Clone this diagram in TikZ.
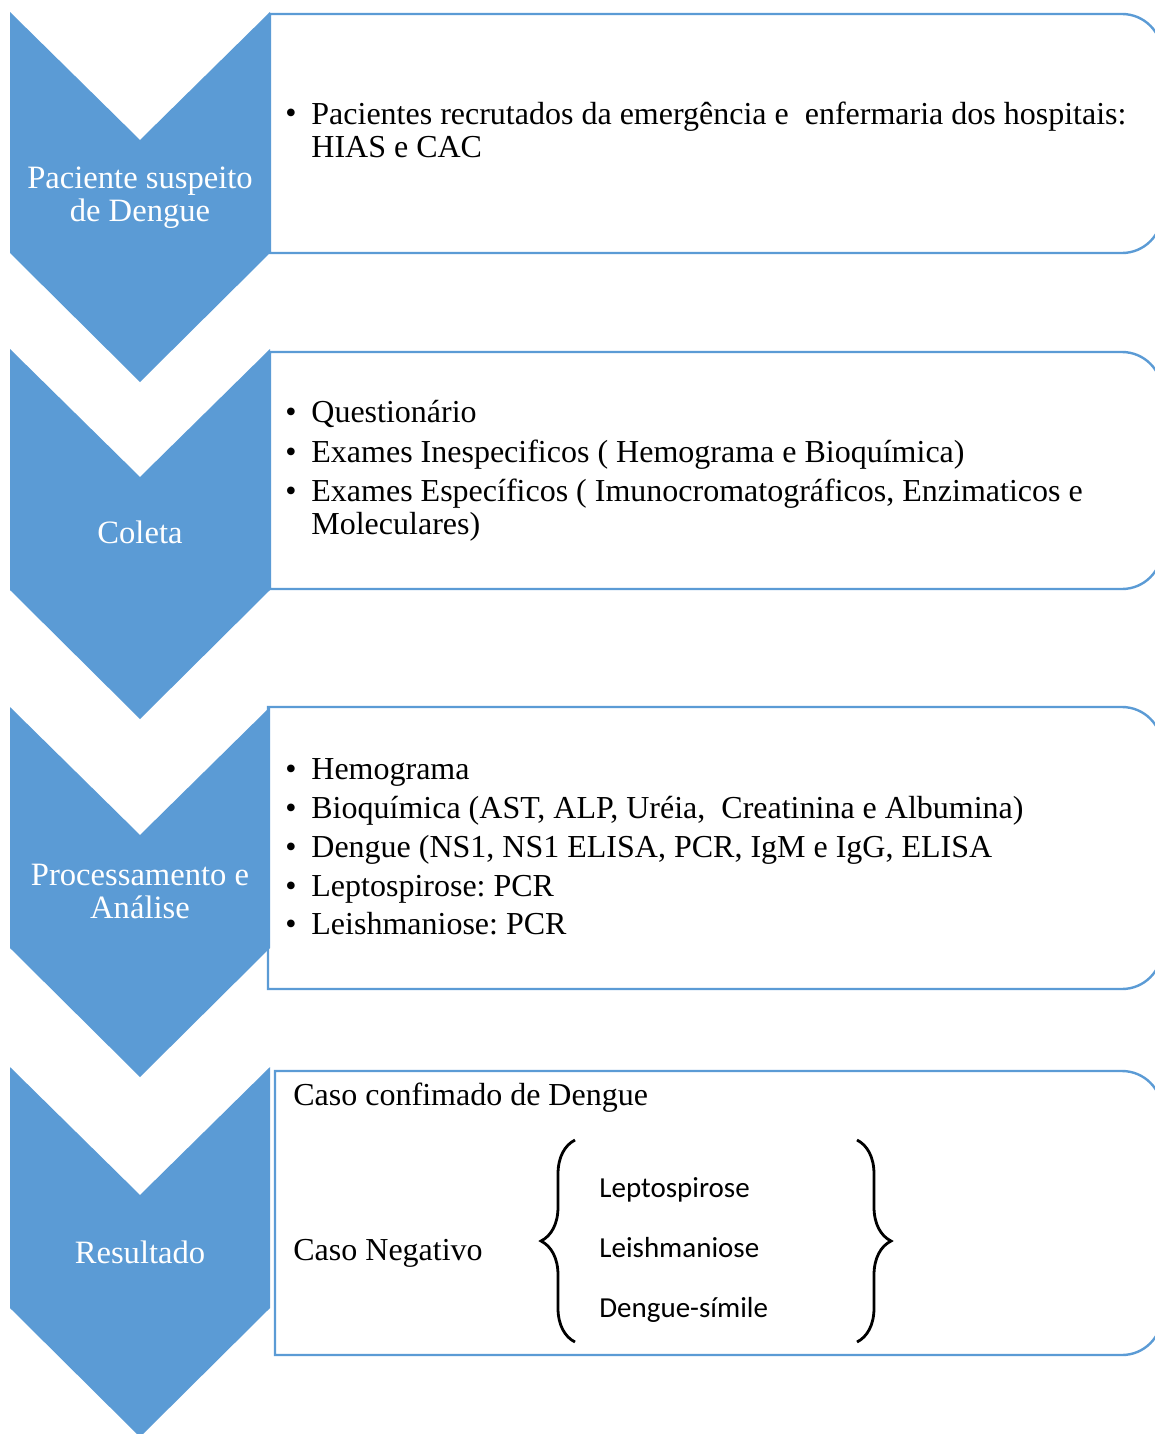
\documentclass[tikz,border=0pt]{standalone}
\usepackage{fontspec}
\setmainfont{Liberation Serif}
\newfontfamily\calibrifont{Carlito}
\usetikzlibrary{decorations.pathreplacing}
\definecolor{stepblue}{RGB}{91,155,213}
\frenchspacing

\begin{document}
\begin{tikzpicture}[x=0.5pt, y=-0.5pt,
    chevron/.style={fill=stepblue},
    panel/.style={draw=stepblue, line width=1.2pt},
    steptext/.style={white, align=center, inner sep=0pt, font=\fontsize{16.3}{16.5}\selectfont},
    item/.style={anchor=base west, align=left, inner sep=0pt, font=\fontsize{16}{16.5}\selectfont},
    dot/.style={anchor=base, inner sep=0pt, font=\fontsize{16}{16.5}\selectfont},
    sub/.style={anchor=base west, inner sep=0pt, font=\calibrifont\fontsize{14.5}{15}\selectfont},
    curly/.style={decorate, decoration={brace, amplitude=17pt}, line width=1.4pt}]
  \useasboundingbox (0,0) rectangle (1155,1434);
  \clip (0,0) rectangle (1155,1434);
  % chevrons down the left side
  \foreach \t in {12,349,707,1067} {
    \fill[chevron] (10,\t) -- (140,\t+128) -- (270,\t) -- (270,\t+241) -- (140,\t+370) -- (10,\t+241) -- cycle;
  }
  % panels, rounded on the right only
  \foreach \l/\t/\b in {270/14/253, 270/352/589, 268/707/989, 275/1071/1355} {
    \draw[panel] (700,\t) [rounded corners=20pt] -- (1162,\t) -- (1162,\b) -- (700,\b) [sharp corners] -- (\l,\b) -- (\l,\t) -- cycle;
  }
  % step names
  \node[steptext] (suspeito) at (140,198) {Paciente suspeito\\de Dengue};
  \node[steptext] (coleta) at (140,532) {Coleta};
  \node[steptext] (processo) at (140,891) {Processamento e\\Análise};
  \node[steptext] (resultado) at (140,1252) {Resultado};
  % panel 1 (base of a two-line node is its last line)
  \node[dot] (d11) at (291,124) {\textbullet};
  \node[item] (p11) at (311,157) {Pacientes recrutados da emergência e~ enfermaria dos hospitais:\\HIAS e CAC};
  % panel 2
  \node[dot] (d21) at (291,422) {\textbullet};
  \node[item] (p21) at (311,422) {Questionário};
  \node[dot] (d22) at (291,462) {\textbullet};
  \node[item] (p22) at (311,462) {Exames Inespecificos ( Hemograma e Bioquímica)};
  \node[dot] (d23) at (291,501) {\textbullet};
  \node[item] (p23) at (311,534) {Exames Específicos ( Imunocromatográficos, Enzimaticos e\\Moleculares)};
  % panel 3
  \foreach \y/\txt [count=\n] in {779/Hemograma,
      818/{Bioquímica (AST, ALP, Uréia,~ Creatinina e Albumina)},
      857/{Dengue (NS1, NS1 ELISA, PCR, IgM e IgG, ELISA},
      896/Leptospirose: PCR,
      934/Leishmaniose: PCR} {
    \node[dot] (d3\n) at (291,\y) {\textbullet};
    \node[item] (p3\n) at (311,\y) {\txt};
  }
  % panel 4
  \node[item] (confirmado) at (293,1105) {Caso confimado de Dengue};
  \node[item] (negativo) at (293,1260) {Caso Negativo};
  \node[sub] (lepto) at (599,1197) {Leptospirose};
  \node[sub] (leish) at (599,1257) {Leishmaniose};
  \node[sub] (simile) at (599,1317) {Dengue-símile};
  \draw[curly] (575,1342) -- (575,1140);
  \draw[curly] (857,1140) -- (857,1342);
\end{tikzpicture}
\end{document}
